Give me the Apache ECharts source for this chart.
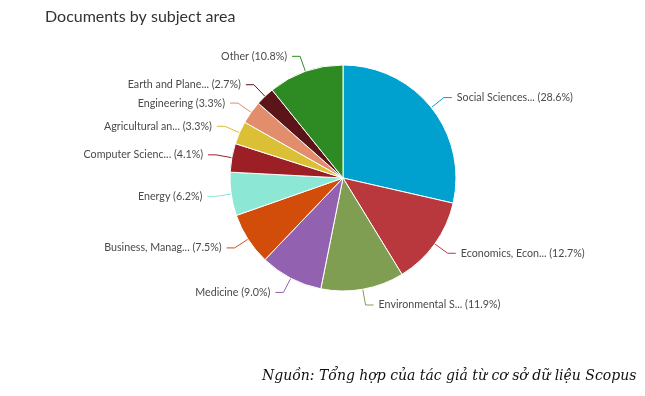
<!DOCTYPE html>
<html lang="en">
<head>
    <meta charset="UTF-8">
    <title>Documents by subject area</title>
    <script src="https://cdn.jsdelivr.net/npm/echarts@6/dist/echarts.min.js"></script>
    <style>
        html, body { margin: 0; padding: 0; background: #fff; }
        #chart { width: 645px; height: 396px; }
    </style>
</head>
<body>
    <div id="chart"></div>
    <script>
        // Datos
        const subjects = [
            'Social Sciences...', 'Economics, Econ...', 'Environmental S...', 'Medicine',
            'Business, Manag...', 'Energy', 'Computer Scienc...', 'Agricultural an...',
            'Engineering', 'Earth and Plane...', 'Other'
        ];
        const shares = [28.6, 12.7, 11.9, 9.0, 7.5, 6.2, 4.1, 3.3, 3.3, 2.7, 10.8];
        const sliceColors = [
            '#00a0cf', '#b9383e', '#7f9e52', '#9262b0', '#d24c0a', '#8ce8d5',
            '#9c1f26', '#dbbf34', '#e28d6b', '#5b1518', '#2e8b24'
        ];

        const chart = echarts.init(document.getElementById('chart'));

        chart.setOption({
            animation: false,
            title: [
                {
                    text: 'Documents by subject area',
                    left: 40, top: 4,
                    textStyle: { fontFamily: 'Lato', fontSize: 16, fontWeight: 'normal', color: '#333' }
                },
                {
                    text: 'Nguồn: Tổng hợp của tác giả từ cơ sở dữ liệu Scopus',
                    left: 257, top: 364,
                    textStyle: { fontFamily: 'DejaVu Serif', fontStyle: 'italic', fontSize: 14, fontWeight: 'normal', color: '#111' }
                }
            ],
            series: [{
                type: 'pie',
                center: [343, 178],
                radius: 113,
                startAngle: 90,
                clockwise: true,
                data: subjects.map((name, i) => ({
                    name: name,
                    value: shares[i],
                    itemStyle: { color: sliceColors[i] }
                })),
                itemStyle: { borderColor: '#fff', borderWidth: 1 },
                label: {
                    show: true,
                    position: 'outside',
                    fontFamily: 'Lato',
                    fontSize: 10.7,
                    color: '#4a4a4a',
                    formatter: p => p.name + ' (' + p.value.toFixed(1) + '%)'
                },
                labelLine: {
                    show: true,
                    length: 16,
                    length2: 8,
                    lineStyle: { width: 1 }
                }
            }]
        });
    </script>
</body>
</html>
